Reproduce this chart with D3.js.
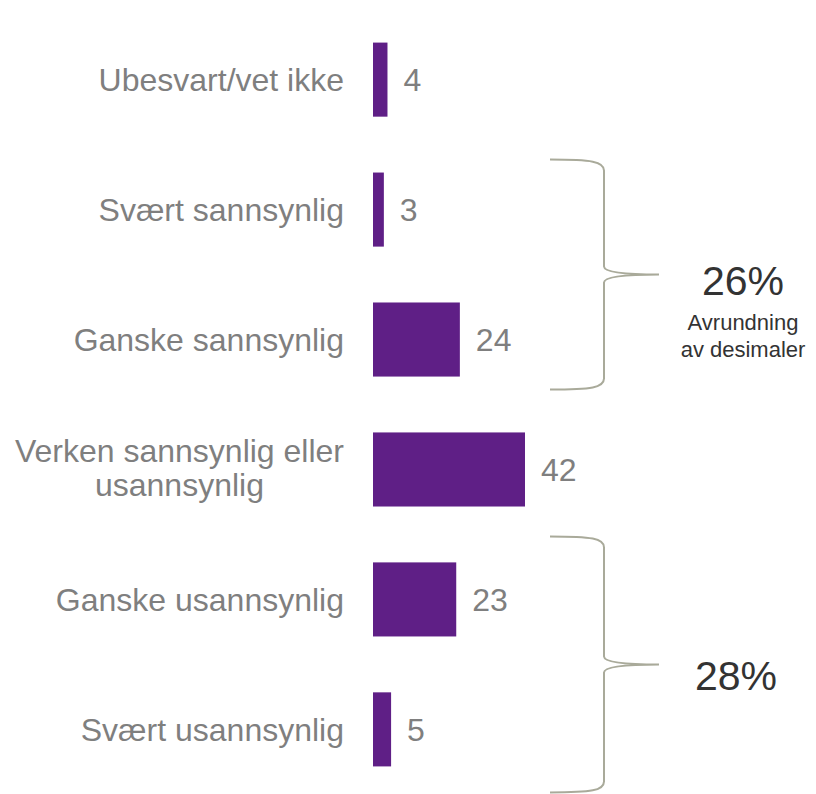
<!DOCTYPE html>
<html>
<head>
<meta charset="utf-8">
<script src="https://cdn.jsdelivr.net/npm/d3@7"></script>
<style>
  body { margin: 0; background: #fff; }
  svg { display: block; font-family: "Liberation Sans", Arial, sans-serif; }
</style>
</head>
<body>
<svg id="chart" width="816" height="794"></svg>
<script>
// categories (top to bottom), line breaks marked with \n
var categories = [
    "Ubesvart/vet ikke",
    "Svært sannsynlig",
    "Ganske sannsynlig",
    "Verken sannsynlig eller\nusannsynlig",
    "Ganske usannsynlig",
    "Svært usannsynlig"
];
var values = [4, 3, 24, 42, 23, 5];

// brace groups: first and last category index, the total and a note
var groupFrom = [1, 4];
var groupTo = [2, 5];
var groupTotals = ["26%", "28%"];
var groupNotes = [["Avrundning", "av desimaler"], []];

var svg = d3.select("#chart");

var y = d3.scaleBand()
    .domain(d3.range(categories.length))
    .range([14, 795])
    .paddingInner(0.43)
    .paddingOuter(0.22);

var x = d3.scaleLinear()
    .domain([0, 42])
    .range([373, 525]);

var barColor = "#5f1f86";
var labelColor = "#7f7f7f";
var fontSize = 32;

// bars
svg.append("g").selectAll("rect")
    .data(values)
    .enter().append("rect")
    .attr("x", x(0))
    .attr("y", function (d, i) { return y(i); })
    .attr("width", function (d) { return x(d) - x(0); })
    .attr("height", y.bandwidth())
    .attr("fill", barColor);

// values
svg.append("g").selectAll("text")
    .data(values)
    .enter().append("text")
    .attr("x", function (d) { return x(d) + 16; })
    .attr("y", function (d, i) { return y(i) + y.bandwidth() / 2; })
    .attr("dy", "0.36em")
    .attr("fill", labelColor)
    .style("font-size", fontSize + "px")
    .text(function (d) { return d; });

// category labels, multi line centred on each other, right edge at 344
var labelRight = 344;
var lineHeight = 34;
var labels = svg.append("g");
categories.forEach(function (c, i) {
    var lines = c.split("\n");
    var t = labels.append("text")
        .attr("fill", labelColor)
        .style("font-size", fontSize + "px");
    var cy = y(i) + y.bandwidth() / 2;
    var spans = lines.map(function (l, k) {
        return t.append("tspan")
            .attr("y", cy + (k - (lines.length - 1) / 2) * lineHeight)
            .attr("dy", lines.length > 1 ? "0.31em" : "0.36em")
            .text(l);
    });
    var maxW = d3.max(spans, function (s) { return s.node().getComputedTextLength(); });
    var mid = labelRight - maxW / 2;
    spans.forEach(function (s) {
        s.attr("x", mid).attr("text-anchor", "middle");
    });
});

// braces
var bracePad = [13, 26];
var braceLeft = 550, braceMid = 604, braceTip = 659;
function bracePath(top, bottom) {
    var c = (top + bottom) / 2;
    var r = 11;
    return "M" + braceLeft + "," + top +
        " C" + (braceMid - 12) + "," + top + " " + braceMid + "," + (top + 2) + " " + braceMid + "," + (top + r) +
        " L" + braceMid + "," + (c - 8) +
        " C" + braceMid + "," + (c - 1) + " " + (braceTip - 25) + "," + c + " " + braceTip + "," + c +
        " C" + (braceTip - 25) + "," + c + " " + braceMid + "," + (c + 1) + " " + braceMid + "," + (c + 8) +
        " L" + braceMid + "," + (bottom - r) +
        " C" + braceMid + "," + (bottom - 2) + " " + (braceMid - 12) + "," + bottom + " " + braceLeft + "," + bottom;
}

var braces = svg.append("g");
groupFrom.forEach(function (f, g) {
    var top = y(f) - bracePad[g];
    var bottom = y(groupTo[g]) + y.bandwidth() + bracePad[g];
    var c = (top + bottom) / 2;
    braces.append("path")
        .attr("d", bracePath(top, bottom))
        .attr("fill", "none")
        .attr("stroke", "#a9aa9a")
        .attr("stroke-width", 2);

    var notes = groupNotes[g];
    var tx = notes.length ? 743 : 736;
    var ty = notes.length ? c + 20 : c + 26;
    braces.append("text")
        .attr("x", tx)
        .attr("y", ty)
        .attr("text-anchor", "middle")
        .attr("fill", "#333333")
        .style("font-size", "41px")
        .text(groupTotals[g]);
    notes.forEach(function (n, k) {
        braces.append("text")
            .attr("x", tx)
            .attr("y", ty + 35 + k * 27)
            .attr("text-anchor", "middle")
            .attr("fill", "#333333")
            .style("font-size", "22px")
            .text(n);
    });
});
</script>
</body>
</html>
